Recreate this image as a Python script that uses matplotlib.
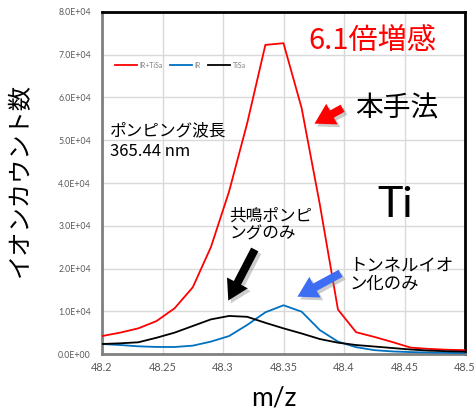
import matplotlib
matplotlib.use("Agg")
import matplotlib.pyplot as plt
from matplotlib.patches import FancyArrowPatch
import matplotlib.patheffects as pe
from matplotlib.ticker import FuncFormatter

mz = [48.2, 48.215, 48.23, 48.245, 48.26, 48.275, 48.29, 48.305, 48.32, 48.335,
      48.35, 48.365, 48.38, 48.395, 48.41, 48.425, 48.44, 48.455, 48.47, 48.485, 48.5]
ir_tisa = [4200, 5000, 6000, 7700, 10700, 15600, 25000, 38000, 54000, 72300,
           72700, 57500, 35000, 10400, 5100, 4000, 2800, 1500, 1200, 1000, 900]
ir = [2340, 2100, 1800, 1650, 1640, 1950, 2900, 4200, 6800, 9750,
      11400, 9900, 5600, 2900, 1600, 900, 600, 450, 350, 280, 200]
tisa = [2340, 2500, 2740, 3800, 5000, 6550, 8100, 8900, 8700, 7300,
        6000, 4800, 3500, 2650, 2100, 1750, 1400, 1050, 800, 650, 550]
series_names = ["IR+TiSa", "IR", "TiSa"]
series_colors = ["#ff0000", "#0070c0", "#000000"]
xticks = [48.2, 48.25, 48.3, 48.35, 48.4, 48.45, 48.5]
yticks = [0, 10000, 20000, 30000, 40000, 50000, 60000, 70000, 80000]

JP = ["Noto Sans CJK JP", "DejaVu Sans"]

fig = plt.figure(figsize=(4.76, 4.18), dpi=100)
ax = fig.add_axes([0.2143, 0.1531, 0.7626, 0.8182])

for vals, name, col in zip([ir_tisa, ir, tisa], series_names, series_colors):
    ax.plot(mz, vals, color=col, lw=1.3, label=name, zorder=3)

ax.set_xlim(48.2, 48.5)
ax.set_ylim(0, 80000)
ax.set_xticks(xticks)
ax.set_yticks(yticks)
ax.xaxis.set_major_formatter(FuncFormatter(lambda v, p: f"{v:g}"))
ax.yaxis.set_major_formatter(FuncFormatter(lambda v, p: f"{v:.1E}"))
ax.grid(True, color="#d9d9d9", lw=1.0, zorder=0)
ax.set_axisbelow(True)
ax.tick_params(axis="both", length=0, colors="#595959")
for lab in ax.get_yticklabels():
    lab.set_fontfamily("Lato")
    lab.set_fontsize(6.3)
for lab in ax.get_xticklabels():
    lab.set_fontfamily("Lato")
    lab.set_fontsize(7.8)
ax.tick_params(axis="y", pad=8)
ax.tick_params(axis="x", pad=6)

ax.spines["left"].set_color("#808080")
ax.spines["bottom"].set_color("#808080")
ax.spines["left"].set_linewidth(2)
ax.spines["bottom"].set_linewidth(2)
ax.spines["top"].set_color("black")
ax.spines["right"].set_color("black")
ax.spines["top"].set_linewidth(2)
ax.spines["right"].set_linewidth(2)

leg = ax.legend(loc="center", bbox_to_anchor=(0.215, 0.845), ncol=3, frameon=False,
                prop={"family": "Lato", "size": 5}, handlelength=3.2,
                columnspacing=1.1, handletextpad=0.3)
for t in leg.get_texts():
    t.set_color("#7f7f7f")

fig.text(274 / 476, 1 - 398 / 418, "m/z", family="Lato", fontsize=19,
         ha="center", va="center")
fig.text(20 / 476, 1 - 180 / 418, "イオンカウント数", family=JP, fontsize=17.5,
         rotation=90, ha="center", va="center")

ax.text(48.3702, 73200, "6.1倍増感", color="#ff0000", family=JP, fontsize=21,
        ha="left", va="center")
ax.text(48.409, 57500, "本手法", color="black", family=JP, fontsize=20,
        ha="left", va="center")
ax.text(48.2066, 49800, "ポンピング波長\n365.44 nm", color="black", family=JP,
        fontsize=12, ha="left", va="center", linespacing=1.25)
ax.text(48.4273, 34800, "Ti", color="black", family="Lato", fontsize=31,
        ha="left", va="center")
ax.text(48.3055, 30200, "共鳴ポンピ\nングのみ", color="black", family=JP,
        fontsize=12, ha="left", va="center", linespacing=1.1)
ax.text(48.4045, 18600, "トンネルイオ\nン化のみ", color="black", family=JP,
        fontsize=12.5, ha="left", va="center", linespacing=1.1)

arrows = [((48.4008, 57800), (48.3736, 53570), "#ff0000"),
          ((48.3273, 25030), (48.3033, 11930), "#000000"),
          ((48.3992, 19180), (48.3595, 13100), "#3d6df2")]
for tail, head, col in arrows:
    a = FancyArrowPatch(tail, head, arrowstyle="simple,head_length=1.1,head_width=1.3,tail_width=0.45",
                        mutation_scale=13, color=col, lw=0, zorder=5,
                        path_effects=[pe.withSimplePatchShadow(offset=(2, -2), shadow_rgbFace="gray", alpha=0.4)])
    ax.add_patch(a)

fig.savefig("out.png", dpi=100)
